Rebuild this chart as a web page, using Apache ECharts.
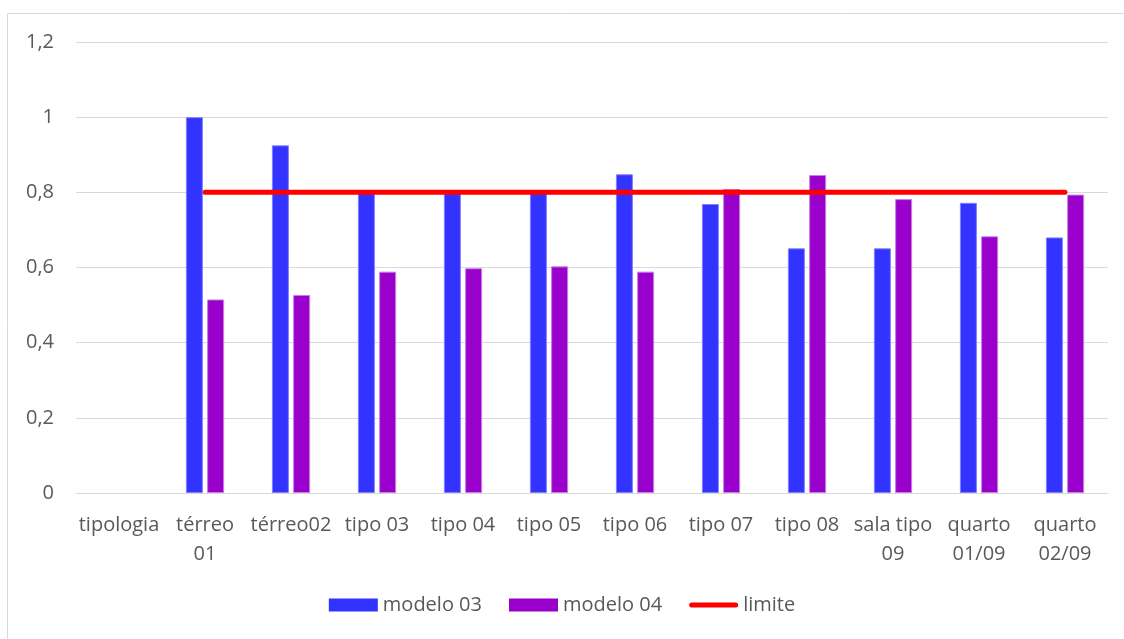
<!DOCTYPE html>
<html>
<head>
<meta charset="utf-8">
<script src="https://cdn.jsdelivr.net/npm/echarts@6/dist/echarts.min.js"></script>
<style>
  html, body { margin: 0; padding: 0; background: #fff; }
  #chart { width: 1124px; height: 639px; }
</style>
</head>
<body>
<div id="chart"></div>
<script>
// Room types along the x axis
const categories = ['tipologia', 'térreo 01', 'térreo02', 'tipo 03', 'tipo 04', 'tipo 05', 'tipo 06', 'tipo 07', 'tipo 08', 'sala tipo 09', 'quarto 01/09', 'quarto 02/09'];
// Values per model
const modelo03 = [null, 1.0, 0.925, 0.8, 0.8, 0.8, 0.848, 0.769, 0.651, 0.651, 0.772, 0.68];
const modelo04 = [null, 0.515, 0.527, 0.589, 0.598, 0.603, 0.589, 0.809, 0.846, 0.782, 0.683, 0.794];
// Reference limit
const limite = [null, 0.8, 0.8, 0.8, 0.8, 0.8, 0.8, 0.8, 0.8, 0.8, 0.8, 0.8];
const yTicks = { min: 0, max: 1.2, interval: 0.2 };

const FONT = "'Open Sans', sans-serif";
const TEXT = '#595959';
const FS = 20;

// Thick rounded line used as the legend key of the limit line
// (tiny corner triangles keep the icon box at the full item size)
const LINE_ICON = 'path://M0,0 L0.001,0 L0,0.001 Z M49,13 L48.999,13 L49,12.999 Z ' +
  'M2.5,4 L46.5,4 A2.5,2.5 0 0 1 46.5,9 L2.5,9 A2.5,2.5 0 0 1 2.5,4 Z';

const chart = echarts.init(document.getElementById('chart'), null, { renderer: 'canvas' });
chart.setOption({
  animation: false,
  textStyle: { fontFamily: FONT },
  graphic: [{
    type: 'rect',
    shape: { x: 7.5, y: 13.5, width: 1140, height: 660 },
    style: { fill: 'none', stroke: '#d9d9d9', lineWidth: 1 },
    silent: true, z: -1
  }],
  grid: { left: 76, right: 16, top: 42, bottom: 146 },
  legend: {
    bottom: 19,
    left: 'center',
    itemWidth: 49,
    itemHeight: 13,
    itemGap: 27,
    symbolKeepAspect: false,
    itemStyle: { borderWidth: 0 },
    textStyle: { color: TEXT, fontSize: FS, fontFamily: FONT },
    data: [
      { name: 'modelo 03', icon: 'rect' },
      { name: 'modelo 04', icon: 'rect' },
      { name: 'limite', icon: LINE_ICON }
    ]
  },
  xAxis: {
    type: 'category',
    data: categories,
    axisLine: { lineStyle: { color: '#d9d9d9', width: 1 } },
    axisTick: { show: false },
    axisLabel: {
      color: TEXT,
      fontSize: FS,
      lineHeight: 29,
      margin: 18,
      interval: 0,
      formatter: function (v) {
        if (v.length > 8 && v.indexOf(' ') > 0) {
          const i = v.lastIndexOf(' ');
          return v.slice(0, i) + '\n' + v.slice(i + 1);
        }
        return v;
      }
    }
  },
  yAxis: {
    type: 'value',
    min: yTicks.min,
    max: yTicks.max,
    interval: yTicks.interval,
    axisLine: { show: false },
    axisTick: { show: false },
    splitLine: { lineStyle: { color: '#d9d9d9', width: 1 } },
    axisLabel: {
      color: TEXT,
      fontSize: FS,
      margin: 22,
      formatter: function (v) { return String(Math.round(v * 10) / 10).replace('.', ','); }
    }
  },
  series: [
    {
      name: 'modelo 03',
      type: 'bar',
      data: modelo03,
      barWidth: 17,
      barGap: '25%',
      itemStyle: { color: '#3333FF', borderColor: '#8080ff', borderWidth: 1 }
    },
    {
      name: 'modelo 04',
      type: 'bar',
      data: modelo04,
      barWidth: 17,
      itemStyle: { color: '#9900CC', borderColor: '#c680e0', borderWidth: 1 }
    },
    {
      name: 'limite',
      type: 'line',
      data: limite,
      symbol: 'none',
      lineStyle: { color: '#FF0000', width: 5, cap: 'round' },
      itemStyle: { color: '#FF0000' },
      z: 5
    }
  ]
});
</script>
</body>
</html>
